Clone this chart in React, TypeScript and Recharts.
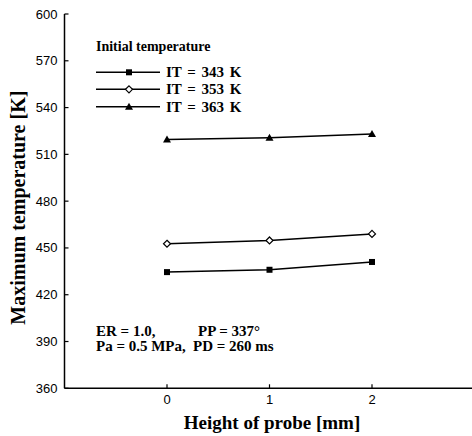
import { LineChart, Line, XAxis, YAxis, Legend } from "recharts"

// probe height [mm]
const heights = [0, 1, 2]
// maximum temperature [K] per initial temperature
const it343 = [434.5, 436, 441]
const it353 = [452.7, 454.8, 459]
const it363 = [519.5, 520.7, 523]

const xTicks = [0, 1, 2]
const yTicks = [360, 390, 420, 450, 480, 510, 540, 570, 600]
const innerYTicks = [390, 420, 450, 480, 510, 540, 570]

const series = [
  { key: "it343", name: "IT = 343 K", shape: "square" },
  { key: "it353", name: "IT = 353 K", shape: "diamond" },
  { key: "it363", name: "IT = 363 K", shape: "triangle" },
]

const data = heights.map((h, i) => ({
  h,
  it343: it343[i],
  it353: it353[i],
  it363: it363[i],
}))

const SERIF = "'Liberation Serif', 'Times New Roman', serif"
const SANS = "'Liberation Sans', Arial, sans-serif"

function Marker({ shape, cx, cy }: { shape: string; cx: number; cy: number }) {
  if (shape === "square") {
    return <rect x={cx - 3} y={cy - 3} width={6} height={6} fill="#000" />
  }
  if (shape === "diamond") {
    return (
      <path
        d={`M${cx},${cy - 3.5} L${cx + 3.5},${cy} L${cx},${cy + 3.5} L${cx - 3.5},${cy} Z`}
        fill="#fff"
        stroke="#000"
        strokeWidth={1.2}
      />
    )
  }
  return <path d={`M${cx},${cy - 4} L${cx + 4},${cy + 3} L${cx - 4},${cy + 3} Z`} fill="#000" />
}

const LeftTick = (props: any) => {
  const { x, y, payload } = props
  return (
    <g>
      <text x={x} y={y + 4.5} textAnchor="end" fontFamily={SANS} fontSize={13} fill="#000">
        {payload.value}
      </text>
      <line x1={x + 7} x2={x + 11} y1={y} y2={y} stroke="#000" strokeWidth={1.2} />
    </g>
  )
}

const BottomTick = (props: any) => {
  const { x, y, payload } = props
  return (
    <g>
      <text x={x} y={y + 9} textAnchor="middle" fontFamily={SANS} fontSize={13} fill="#000">
        {payload.value}
      </text>
      <line x1={x} x2={x} y1={y - 7} y2={y - 11} stroke="#000" strokeWidth={1.2} />
    </g>
  )
}

const TopTick = (props: any) => {
  const { x, y } = props
  return <line x1={x} x2={x} y1={y} y2={y + 4} stroke="#000" strokeWidth={1.2} />
}

const RightTick = (props: any) => {
  const { x, y } = props
  return <line x1={x} x2={x - 4} y1={y} y2={y} stroke="#000" strokeWidth={1.2} />
}

const YTitle = (props: any) => {
  const vb = props.viewBox
  const cx = vb.x + 18
  const cy = vb.y + vb.height / 2 + 6.5
  return (
    <text
      x={cx}
      y={cy}
      transform={`rotate(-90, ${cx}, ${cy})`}
      textAnchor="middle"
      dominantBaseline="central"
      fontFamily={SERIF}
      fontWeight="bold"
      fontSize={20}
      fill="#000"
    >
      Maximum temperature [K]
    </text>
  )
}

const XTitle = (props: any) => {
  const vb = props.viewBox
  return (
    <text
      x={vb.x + vb.width / 2 + 2.5}
      y={429}
      textAnchor="middle"
      fontFamily={SERIF}
      fontWeight="bold"
      fontSize={19}
      fill="#000"
    >
      Height of probe [mm]
    </text>
  )
}

const LegendBox = () => {
  const rows = [72.3, 89.3, 106.7]
  return (
    <svg width={260} height={120} style={{ display: "block" }}>
      <text x={96} y={51} fontFamily={SERIF} fontWeight="bold" fontSize={14} fill="#000">
        Initial temperature
      </text>
      {series.map((s, i) => (
        <g key={s.key}>
          <line x1={96} x2={160} y1={rows[i]} y2={rows[i]} stroke="#000" strokeWidth={1.5} />
          <Marker shape={s.shape} cx={129} cy={rows[i]} />
          <text
            x={166}
            y={rows[i] + 5}
            fontFamily={SERIF}
            fontWeight="bold"
            fontSize={15}
            wordSpacing={2}
            fill="#000"
          >
            {s.name}
          </text>
        </g>
      ))}
    </svg>
  )
}

export default function App() {
  return (
    <div style={{ position: "fixed", left: 0, top: 0, width: 472, height: 436, overflow: "hidden", background: "#fff" }}>
      <LineChart width={480} height={436} data={data} margin={{ top: 14, right: 5.5, left: 0, bottom: 0 }}>
        <XAxis
          xAxisId="bottom"
          dataKey="h"
          type="number"
          domain={[-1, 3]}
          ticks={xTicks}
          height={47.7}
          tickSize={0}
          tickMargin={7}
          tickLine={false}
          tick={BottomTick}
          axisLine={{ stroke: "#000", strokeWidth: 1.5 }}
          label={XTitle}
        />
        <XAxis
          xAxisId="top"
          orientation="top"
          dataKey="h"
          type="number"
          domain={[-1, 3]}
          ticks={xTicks}
          height={0}
          tickSize={0}
          tickMargin={0}
          tickLine={false}
          tick={TopTick}
          axisLine={{ stroke: "#000", strokeWidth: 1.5 }}
        />
        <YAxis
          yAxisId="left"
          type="number"
          domain={[360, 600]}
          ticks={yTicks}
          width={64.5}
          tickSize={0}
          tickMargin={7}
          tickLine={false}
          tick={LeftTick}
          axisLine={{ stroke: "#000", strokeWidth: 1.5 }}
          label={YTitle}
        />
        <YAxis
          yAxisId="right"
          orientation="right"
          type="number"
          domain={[360, 600]}
          ticks={innerYTicks}
          width={0}
          tickSize={0}
          tickMargin={0}
          tickLine={false}
          tick={RightTick}
          axisLine={{ stroke: "#000", strokeWidth: 1.5 }}
        />
        <Legend
          layout="vertical"
          align="center"
          verticalAlign="middle"
          wrapperStyle={{ top: 0, left: 0, width: 260, height: 120 }}
          content={LegendBox}
        />
        {series.map((s) => (
          <Line
            key={s.key}
            xAxisId="bottom"
            yAxisId="left"
            dataKey={s.key}
            name={s.name}
            stroke="#000"
            strokeWidth={1.5}
            isAnimationActive={false}
            dot={(p: any) => <Marker key={`${s.key}-${p.index}`} shape={s.shape} cx={p.cx} cy={p.cy} />}
            activeDot={false}
          />
        ))}
      </LineChart>
      <svg width={320} height={40} style={{ position: "absolute", left: 0, top: 318 }}>
        <g fontFamily={SERIF} fontWeight="bold" fontSize={15} fill="#000">
          <text x={96} y={18}>ER = 1.0,</text>
          <text x={198} y={18}>PP = 337°</text>
          <text x={96} y={33}>Pa = 0.5 MPa,</text>
          <text x={193} y={33}>PD = 260 ms</text>
        </g>
      </svg>
    </div>
  )
}
